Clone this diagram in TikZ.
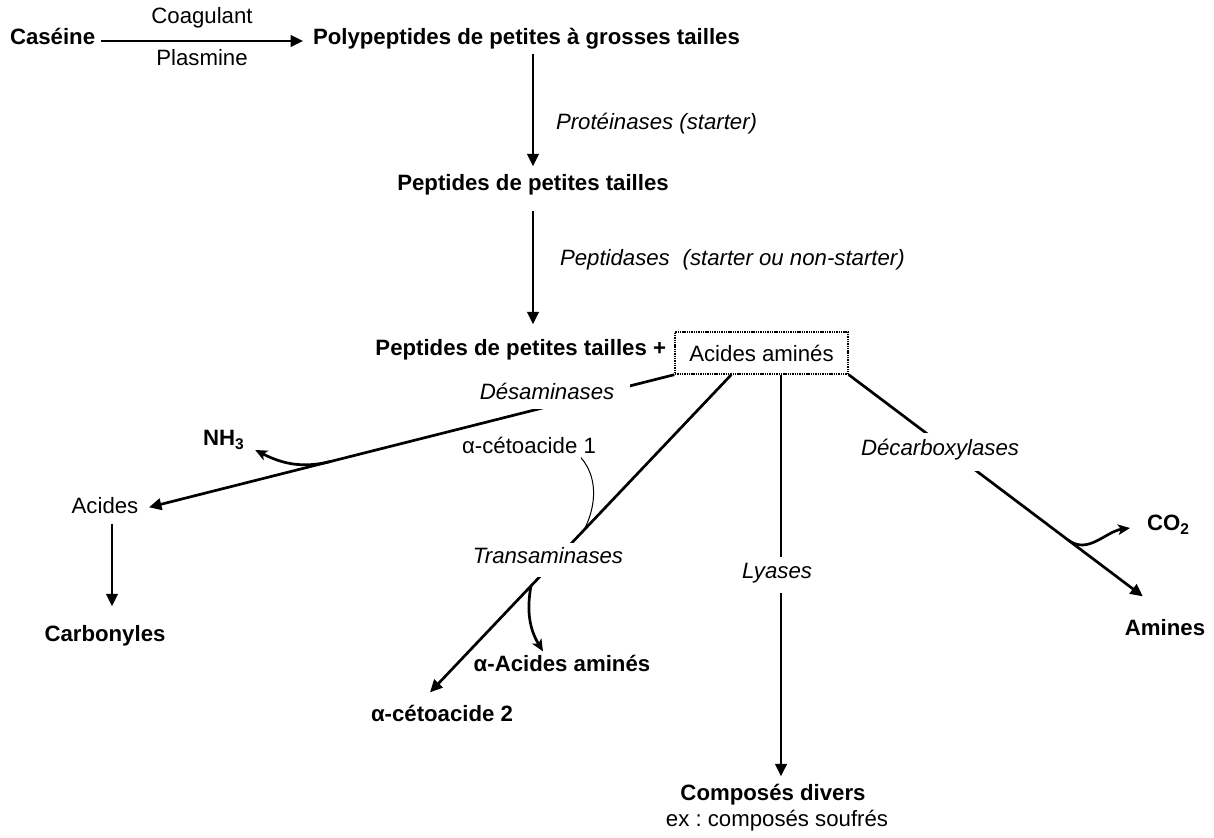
\documentclass[tikz,border=0pt]{standalone}
\usepackage{fontspec}
\setmainfont{Liberation Sans}
\usetikzlibrary{arrows.meta}
\newcommand{\fsz}{\fontsize{22.2}{26}\selectfont}
\begin{document}
\begin{tikzpicture}[x=1pt,y=1pt,
  txt/.style={inner sep=0pt, outer sep=0pt, text height=0.72em, text depth=0pt, font=\fsz},
  bold/.style={txt, font=\fsz\bfseries},
  ital/.style={txt, font=\fsz\itshape},
  cut/.style={ital, fill=white, inner xsep=4pt, inner ysep=14pt},
  arr/.style={line width=2.7pt, -{Triangle[length=12.5pt,width=11.5pt]}},
  curvearr/.style={line width=2.7pt, -{Stealth[length=12pt,width=10.5pt,inset=3pt]}},
  thinline/.style={line width=1pt},
  dotbox/.style={draw, line width=1.4pt, dash pattern=on 1.4pt off 0.9pt, minimum width=173pt, minimum height=42pt, inner sep=0pt, font=\fsz}
]
\useasboundingbox (0,0) rectangle (1214,-837);

% nodes
\node[bold, anchor=west] (caseine) at (10,-41) {Caséine};
\node[txt] (coag) at (202,-20) {Coagulant};
\node[txt] (plas) at (202,-62) {Plasmine};
\node[bold, anchor=west] (poly) at (313,-41) {Polypeptides de petites à grosses tailles};
\node[ital, anchor=west] (prot) at (556,-126) {Protéinases (starter)};
\node[bold] (pep1) at (533,-187) {Peptides de petites tailles};
\node[ital, anchor=west] (pept) at (560,-262) {Peptidases\hspace{0.3em} (starter ou non-starter)};
\node[dotbox] (box) at (761.5,-353) {Acides aminés};
\node[bold, anchor=east] (pep2) at (666,-352) {Peptides de petites tailles +};
\node[txt] (acides) at (105,-510) {Acides};
\node[bold] (carb) at (105,-638) {Carbonyles};
\node[bold, anchor=west] (nh3) at (203,-442) {NH\textsubscript{3}};
\node[txt] (ceto1) at (529,-450) {α-cétoacide 1};
\node[bold] (aa) at (562,-668) {α-Acides aminés};
\node[bold] (ceto2) at (442,-718) {α-cétoacide 2};
\node[bold] (comp1) at (773,-797) {Composés divers};
\node[txt] (comp2) at (777,-823) {ex :\ composés soufrés};
\node[bold, anchor=west] (co2) at (1147,-527) {CO\textsubscript{2}};
\node[bold] (amines) at (1165,-632) {Amines};

% top chain
\draw[arr, shorten <=6pt, shorten >=10pt] (caseine.east) -- (poly.west);
\draw[arr, shorten <=9pt, shorten >=17pt] (poly.south -| pep1) -- (pep1.north);
\draw[arr, shorten <=20pt, shorten >=24pt] (pep1.south) -- (pep1.south |- pep2.north);

% desaminases
\draw[arr, shorten >=11pt] (box.south west) -- (acides.east);
\path (box.south west) -- (acides.east) coordinate[pos=0.641] (nfork);
\node[cut, inner xsep=16pt, inner ysep=9pt] (desam) at (547,-396) {Désaminases};
\draw[curvearr] (nfork) to[out=194,in=-27] ([shift={(11pt,-8pt)}]nh3.east);
\draw[arr, shorten <=10pt, shorten >=28pt] ([xshift=7pt]acides.south) -- ([xshift=7pt]acides.south |- carb.north);

% transaminases
\draw[arr] ([xshift=57pt]box.south west) -- ([shift={(-12pt,22pt)}]ceto2.north);
\path ([xshift=57pt]box.south west) -- ([shift={(-12pt,22pt)}]ceto2.north)
  coordinate[pos=0.49] (tfork) coordinate[pos=0.665] (afork);
\node[cut, inner ysep=13pt] (trans) at (548,-560) {Transaminases};
\draw[thinline] ([shift={(-15pt,-4pt)}]ceto1.south east) .. controls +(20,-23) and +(10,18) .. (tfork);
\draw[curvearr] (afork) to[out=-100,in=121] ([shift={(-19pt,13pt)}]aa.north);

% lyases
\draw[arr, shorten >=17pt] ([xshift=19.5pt]box.south) -- ([xshift=19.5pt]box.south |- comp1.north);
\node[cut] (lyases) at (777,-575) {Lyases};

% decarboxylases
\draw[arr] (box.south east) -- ([shift={(18pt,32pt)}]amines.north west);
\path (box.south east) -- ([shift={(18pt,32pt)}]amines.north west) coordinate[pos=0.747] (cfork);
\node[cut, inner ysep=15pt] (decarb) at (940,-452) {Décarboxylases};
\draw[curvearr] (cfork) to[out=-36,in=188] ([shift={(-17pt,-1pt)}]co2.west);
\end{tikzpicture}
\end{document}
